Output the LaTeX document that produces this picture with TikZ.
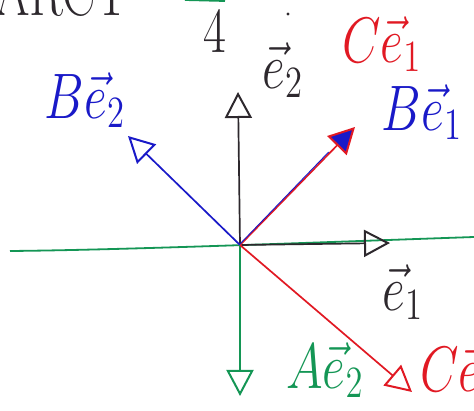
\documentclass[tikz,border=0pt]{standalone}
\usetikzlibrary{arrows.meta,calc}
\definecolor{pgreen}{RGB}{20,150,85}
\definecolor{pblue}{RGB}{25,25,200}
\definecolor{pred}{RGB}{225,25,35}
\definecolor{pblack}{RGB}{45,40,45}
\begin{document}
\begin{tikzpicture}[x=1pt,y=-1pt,
  vec/.style={line width=1.7pt,-{Triangle[open,length=26pt,width=27pt,line width=2pt]}},
  lab/.style={font=\huge, xscale=2.4, yscale=3.1, inner sep=0pt},
  sketch/.style={line width=1.8pt}]
\useasboundingbox (0,0) rectangle (474,411);
\clip (0,0) rectangle (474,411);
\fill[white] (0,0) rectangle (474,411);

% top fragments
\node[lab, text=pblack, anchor=south] (arct) at (62,17) {ARCT};
\node[lab, text=pblack] (four) at (215,31) {4};
\coordinate (barL) at (185,0);
\coordinate (barR) at (225,1);
\draw[pgreen, sketch] (barL) -- (barR);
\node[circle, fill=pblack, inner sep=1.2pt] (dot) at (288,14) {};

% axis line
\coordinate (O) at (240,245);
\coordinate (hL) at (10,251);
\coordinate (hR) at (474,237);
\draw[pgreen, sketch] (hL) .. controls (120,250) and (300,243) .. (hR);

% tips
\coordinate (te2) at (238,92);
\coordinate (te1) at (390,243);
\coordinate (tbe1) at (355,127);
\coordinate (tbe2) at (128,136);
\coordinate (tae2) at (240,396);
\coordinate (tce2) at (412,392);

\draw[vec, pblack] (O) -- (te2);
\draw[vec, pblack] (O) -- (te1);
\draw[vec, pblue] (O) -- (tbe2);
\draw[vec, pgreen] (O) -- (tae2);
\draw[vec, pred] (O) -- (tce2);
\draw[line width=1.7pt, pred, -{Triangle[length=26pt,width=27pt,line width=2pt,color=pred,fill=pblue]}] (O) -- (tbe1);
\draw[line width=0.9pt, pblue] ([xshift=-1pt]O) -- ($(O)!0.78!(tbe1)+(-1,-1)$);

% labels
\node[lab, text=pblue] (lbe2) at (85,100) {$B\vec{e}_2$};
\node[lab, text=pblack] (le2) at (283,70) {$\vec{e}_2$};
\node[lab, text=pred] (lce1) at (382,44) {$C\vec{e}_1$};
\node[lab, text=pblue] (lbe1) at (422,112) {$B\vec{e}_1$};
\node[lab, text=pblack] (le1) at (403,292) {$\vec{e}_1$};
\node[lab, text=pgreen] (lae2) at (325,370) {$A\vec{e}_2$};
\node[lab, text=pred, anchor=west] (lce2) at (420,373) {$C\vec{e}_2$};
\end{tikzpicture}
\end{document}
